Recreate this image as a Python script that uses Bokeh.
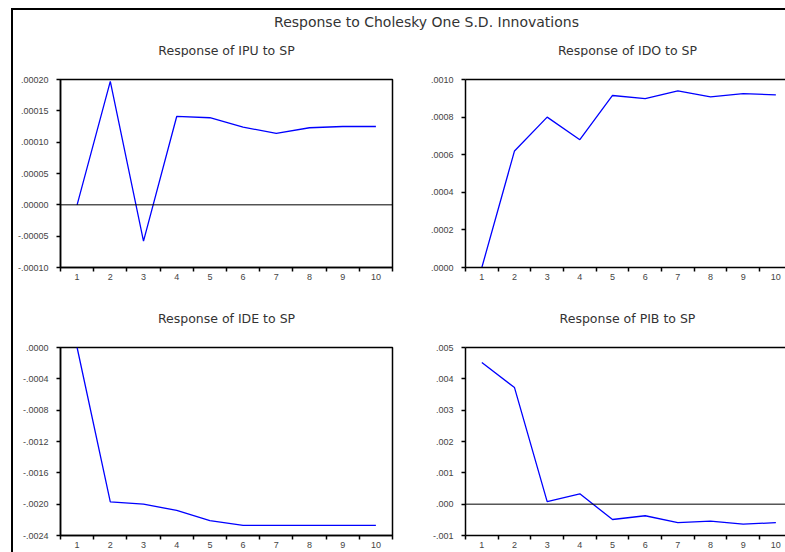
from bokeh.plotting import figure
from bokeh.models import Range1d, FixedTicker, LinearAxis, Span, Label
from bokeh.layouts import column, row
from bokeh.embed import file_html
from bokeh.resources import INLINE

# ---------------- data ----------------
main_title = "Response to Cholesky One S.D. Innovations"
periods = [1, 2, 3, 4, 5, 6, 7, 8, 9, 10]
period_edges = [0.5, 1.5, 2.5, 3.5, 4.5, 5.5, 6.5, 7.5, 8.5, 9.5, 10.5]

ipu_title = "Response of IPU to SP"
ipu = [0.0, 0.000197, -0.000058, 0.000141, 0.000139, 0.000124, 0.000114, 0.000123, 0.000125, 0.000125]
ipu_ticks = [-0.0001, -0.00005, 0.0, 0.00005, 0.0001, 0.00015, 0.0002]
ipu_labels = ["-.00010", "-.00005", ".00000", ".00005", ".00010", ".00015", ".00020"]

ido_title = "Response of IDO to SP"
ido = [0.0, 0.00062, 0.00080, 0.00068, 0.000915, 0.000898, 0.000940, 0.000908, 0.000925, 0.000918]
ido_ticks = [0.0, 0.0002, 0.0004, 0.0006, 0.0008, 0.001]
ido_labels = [".0000", ".0002", ".0004", ".0006", ".0008", ".0010"]

ide_title = "Response of IDE to SP"
ide = [0.0, -0.00197, -0.00200, -0.00208, -0.00221, -0.00227, -0.00227, -0.00227, -0.00227, -0.00227]
ide_ticks = [-0.0024, -0.002, -0.0016, -0.0012, -0.0008, -0.0004, 0.0]
ide_labels = ["-.0024", "-.0020", "-.0016", "-.0012", "-.0008", "-.0004", ".0000"]

pib_title = "Response of PIB to SP"
pib = [0.00452, 0.00372, 0.00008, 0.00033, -0.00049, -0.00037, -0.00059, -0.00054, -0.00064, -0.00059]
pib_ticks = [-0.001, 0.0, 0.001, 0.002, 0.003, 0.004, 0.005]
pib_labels = ["-.001", ".000", ".001", ".002", ".003", ".004", ".005"]

# ---------------- styling / geometry ----------------
TICK_FONT = "Liberation Sans"
TITLE_FONT = "DejaVu Sans"
LABEL_COLOR = "#444444"
TITLE_COLOR = "#333333"
FRAME_H = 188
LW, RW = 387, 385
W = LW + RW
RIGHT_X_END = 0.5 + 320 / 32.67
LEFT_TITLE_X = 213     # horizontal centre of left frames (px within layout)
RIGHT_TITLE_X = 614    # horizontal centre of right frames


def text_strip(height, items):
    """A blank strip that only carries centred text labels: items = (text, x, y, size)."""
    s = figure(width=W, height=height, output_backend="svg", toolbar_location=None,
               x_range=Range1d(0, W), y_range=Range1d(0, height), min_border=0,
               x_axis_location=None, y_axis_location=None, title=None,
               background_fill_color="white", border_fill_color="white")
    s.grid.visible = False
    s.outline_line_color = None
    for txt, x, y, size in items:
        s.add_layout(Label(x=x, y=y, text=txt, text_align="center", text_baseline="middle",
                           text_font=TITLE_FONT, text_font_size=size, text_color=TITLE_COLOR))
    return s


def panel(values, yticks, ylabels, width, mb_left, mb_right, mb_top, mb_bottom,
          x_end, left_col, zero_line):
    y0, y1 = yticks[0], yticks[-1]
    p = figure(width=width, height=mb_top + FRAME_H + mb_bottom, output_backend="svg",
               toolbar_location=None, title=None,
               x_range=Range1d(0.5, x_end), y_range=Range1d(y0, y1),
               min_border_left=mb_left, min_border_right=mb_right,
               min_border_top=mb_top, min_border_bottom=mb_bottom,
               background_fill_color="white", border_fill_color="white")
    p.xgrid.visible = False
    p.ygrid.visible = False

    xa = p.xaxis[0]
    xa.ticker = FixedTicker(ticks=periods, minor_ticks=period_edges)
    xa.major_tick_line_color = None
    xa.major_tick_out = 4
    xa.major_tick_in = 0
    xa.minor_tick_out = 4
    xa.minor_tick_in = 0
    xa.minor_tick_line_color = "black"
    xa.minor_tick_line_width = 1.5
    xa.major_label_standoff = 2
    xa.axis_line_color = "black"
    xa.axis_line_width = 1.5
    xa.major_label_text_font = TICK_FONT
    xa.major_label_text_font_size = "9px"
    xa.major_label_text_color = LABEL_COLOR

    ya = p.yaxis[0]
    ya.ticker = FixedTicker(ticks=yticks)
    ya.major_label_overrides = dict(zip(yticks, ylabels))
    ya.major_tick_out = 4
    ya.major_tick_in = 0
    ya.major_tick_line_width = 1.5
    ya.minor_tick_line_color = None
    ya.major_label_standoff = 8
    ya.axis_line_color = "black"
    ya.axis_line_width = 1.5
    ya.major_label_text_font = TICK_FONT
    ya.major_label_text_font_size = "9px"
    ya.major_label_text_color = LABEL_COLOR

    if left_col:
        p.outline_line_color = "black"
        p.outline_line_width = 1.5
        p.outline_line_alpha = 1.0
    else:
        p.outline_line_color = None
        top = LinearAxis(ticker=FixedTicker(ticks=[]), major_label_text_font_size="0px",
                         major_tick_out=0, major_tick_in=0, minor_tick_out=0, minor_tick_in=0,
                         major_label_standoff=0, axis_line_color="black", axis_line_width=1.5)
        p.add_layout(top, "above")

    if zero_line:
        p.add_layout(Span(location=0, dimension="width", line_color="black", line_width=1))

    p.line(periods, values, line_color="#0000FF", line_width=1.3)
    return p


# header: main title + titles of the upper panels
header = text_strip(47, [(main_title, 413, 36, "14px"),
                         (ipu_title, LEFT_TITLE_X, 7.5, "12.5px"),
                         (ido_title, RIGHT_TITLE_X, 7.5, "12.5px")])
p1 = panel(ipu, ipu_ticks, ipu_labels, LW, 47, 8, 22, 34, 10.5, True, True)
p2 = panel(ido, ido_ticks, ido_labels, RW, 65, 0, 22, 34, RIGHT_X_END, False, False)
middle = text_strip(32, [(ide_title, LEFT_TITLE_X, 15, "12.5px"),
                         (pib_title, RIGHT_TITLE_X, 15, "12.5px")])
p3 = panel(ide, ide_ticks, ide_labels, LW, 47, 8, 14, 17, 10.5, True, False)
p4 = panel(pib, pib_ticks, pib_labels, RW, 65, 0, 14, 17, RIGHT_X_END, False, True)

layout = column(header, row(p1, p2), middle, row(p3, p4),
                styles={"border-top": "2px solid #000", "border-left": "2px solid #000"},
                margin=(8, 0, 0, 11))

open("out.html", "w").write(file_html(layout, INLINE))
